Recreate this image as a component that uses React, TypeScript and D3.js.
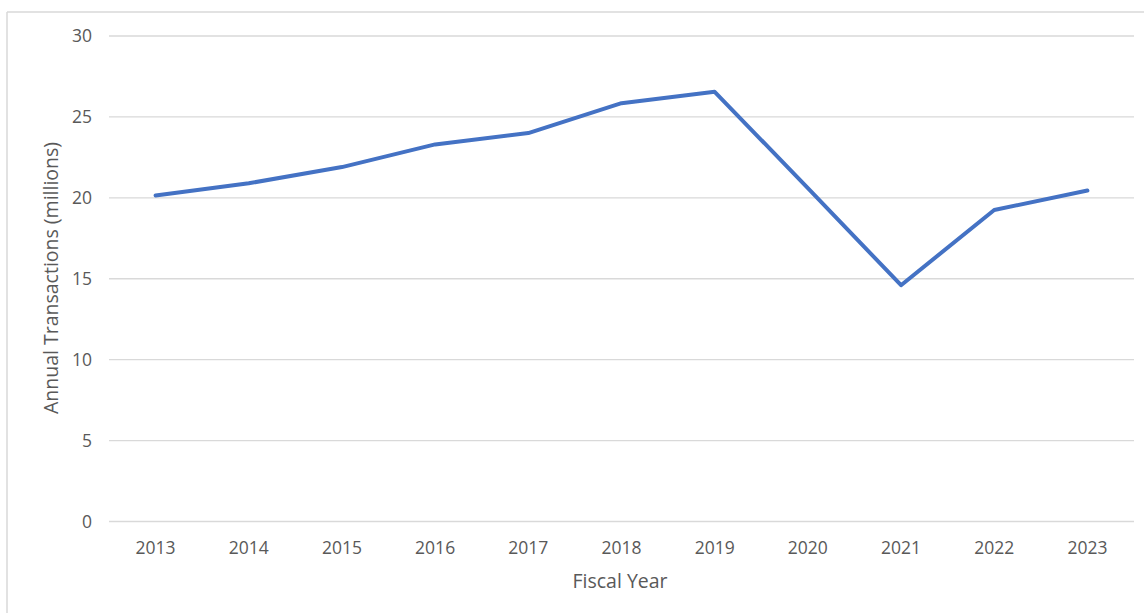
import React from "react";
import * as d3 from "d3";

const years = ["2013", "2014", "2015", "2016", "2017", "2018", "2019", "2020", "2021", "2022", "2023"];
const transactions = [20.15, 20.9, 21.9, 23.3, 24.0, 25.85, 26.55, 20.6, 14.6, 19.25, 20.45];
const yTicks = [0, 5, 10, 15, 20, 25, 30];

const W = 1144;
const H = 616;
const plot = { left: 109, right: 1134, top: 36, bottom: 521.5 };
const FONT = "'Open Sans', 'Liberation Sans', sans-serif";
const TEXT = "#595959";

export default function App() {
  const x = d3.scaleBand<string>().domain(years).range([plot.left, plot.right]);
  const y = d3.scaleLinear().domain([0, 30]).range([plot.bottom, plot.top]);
  const cx = (d: string) => (x(d) ?? 0) + x.bandwidth() / 2;

  const line = d3
    .line<number>()
    .x((_, i) => cx(years[i]))
    .y((v) => y(v));

  return (
    <svg
      width={W}
      height={H}
      style={{ position: "absolute", left: 0, top: 0, background: "#fff" }}
    >
      <rect x={0} y={0} width={W} height={H} fill="#fff" />
      {/* chart frame */}
      <line x1={7} x2={W} y1={12} y2={12} stroke="#d9d9d9" strokeWidth={1.5} />
      <line x1={7} x2={7} y1={12} y2={613} stroke="#d9d9d9" strokeWidth={1.5} />

      {/* horizontal gridlines */}
      {yTicks.map((t) => (
        <line
          key={t}
          x1={plot.left}
          x2={plot.right}
          y1={y(t)}
          y2={y(t)}
          stroke="#d9d9d9"
          strokeWidth={1.3}
        />
      ))}

      {/* y tick labels */}
      {yTicks.map((t) => (
        <text
          key={t}
          x={92}
          y={y(t)}
          dy="0.35em"
          textAnchor="end"
          fontFamily={FONT}
          fontSize={17.5}
          fill={TEXT}
        >
          {t}
        </text>
      ))}

      {/* x tick labels */}
      {years.map((yr) => (
        <text
          key={yr}
          x={cx(yr)}
          y={548}
          dy="0.35em"
          textAnchor="middle"
          fontFamily={FONT}
          fontSize={17.5}
          fill={TEXT}
        >
          {yr}
        </text>
      ))}

      {/* axis titles */}
      <text
        x={620}
        y={581}
        dy="0.35em"
        textAnchor="middle"
        fontFamily={FONT}
        fontSize={19.5}
        fill={TEXT}
      >
        Fiscal Year
      </text>
      <text
        transform={`translate(51, 278) rotate(-90)`}
        dy="0.35em"
        textAnchor="middle"
        fontFamily={FONT}
        fontSize={19.5}
        fill={TEXT}
      >
        Annual Transactions (millions)
      </text>

      {/* series */}
      <path
        d={line(transactions) ?? ""}
        fill="none"
        stroke="#4472C4"
        strokeWidth={4}
        strokeLinejoin="round"
        strokeLinecap="round"
      />
    </svg>
  );
}
